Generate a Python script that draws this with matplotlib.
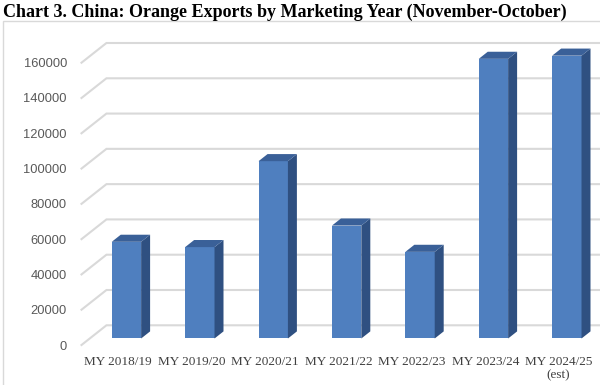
import matplotlib
matplotlib.use('Agg')
import matplotlib.pyplot as plt
from matplotlib.patches import Polygon, Rectangle

# Data
years = ['MY 2018/19', 'MY 2019/20', 'MY 2020/21', 'MY 2021/22',
         'MY 2022/23', 'MY 2023/24', 'MY 2024/25\n(est)']
exports = [54800, 51800, 100500, 64000, 49100, 158500, 160300]
yticks = list(range(0, 160001, 20000))

# 3D look
DX, DY = 0.34, 11170      # full floor depth in data units
f0, f1 = 0.33, 0.69       # bar front / back depth
w = 0.4
c_front, c_side, c_top = '#4F7FBF', '#2F5081', '#3A6098'
grid_c = '#D9D9D9'

fig = plt.figure(figsize=(6, 3.85), dpi=100)
W, H = 600, 385

# chart frame
fig.add_artist(Rectangle((2.5 / W, -0.05), 1.1, 1.05 - 21 / H, transform=fig.transFigure,
                         fill=False, edgecolor=grid_c, linewidth=1))

fig.text(3 / W, 1 - 12 / H, 'Chart 3. China: Orange Exports by Marketing Year (November-October)',
         family='Liberation Serif', fontweight='bold', fontsize=13, va='center', ha='left')

ax = fig.add_axes([81.5 / W, 40 / H, 513.8 / W, 282.3 / H])
ax.set_xlim(-0.5, 6.5)
ax.set_ylim(0, 160000)
for s in ax.spines.values():
    s.set_visible(False)

# gridlines: left wall diagonal + back wall
for v in yticks:
    ax.plot([-0.5, -0.5 + DX, 8], [v, v + DY, v + DY], color=grid_c, lw=1.5,
            clip_on=False, zorder=1, solid_joinstyle='miter')

d = f1 - f0
for i, v in enumerate(exports):
    x0 = i - w / 2 + f0 * DX
    x1 = x0 + w
    y0 = f0 * DY
    yt = y0 + v
    ax.add_patch(Rectangle((x0, y0), w, v, facecolor=c_front, edgecolor='none',
                           clip_on=False, zorder=3))
    ax.add_patch(Polygon([(x1, y0), (x1 + d * DX, y0 + d * DY), (x1 + d * DX, yt + d * DY), (x1, yt)],
                         closed=True, facecolor=c_side, edgecolor='none', clip_on=False, zorder=3))
    ax.add_patch(Polygon([(x0, yt), (x1, yt), (x1 + d * DX, yt + d * DY), (x0 + d * DX, yt + d * DY)],
                         closed=True, facecolor=c_top, edgecolor='none', clip_on=False, zorder=3))

ax.set_yticks(yticks)
ax.set_yticklabels([str(v) for v in yticks], family='Liberation Sans', fontsize=9.3, color='#595959')
ax.set_xticks(range(len(years)))
ax.set_xticklabels(years, family='Liberation Serif', fontsize=9.5, color='#404040', linespacing=1.1)
ax.tick_params(axis='y', length=0, pad=10.5)
ax.tick_params(axis='x', length=0, pad=8)

fig.savefig('out.png', dpi=100)
